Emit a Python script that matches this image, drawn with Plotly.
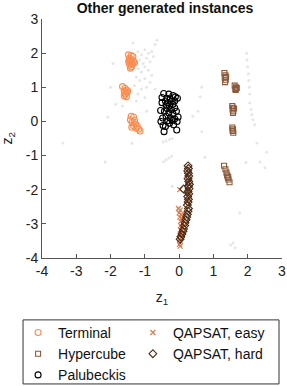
import plotly.graph_objects as go

# ---------------- data ----------------
terminal_x = [-1.48, -1.40, -1.35, -1.45, -1.38, -1.42, -1.33, -1.47, -1.40, -1.36, -1.44, -1.39, -1.42, -1.30, -1.46,
              -1.65, -1.58, -1.55, -1.60, -1.52, -1.57, -1.60, -1.54, -1.50,
              -1.40, -1.33, -1.42, -1.30, -1.37, -1.27, -1.33, -1.22, -1.25, -1.18, -1.14, -1.38]
terminal_y = [1.95, 1.93, 1.90, 1.85, 1.80, 1.78, 1.76, 1.74, 1.70, 1.68, 1.65, 1.60, 1.56, 1.72, 1.80,
              1.02, 0.97, 0.92, 0.88, 0.85, 0.80, 0.75, 0.72, 0.90,
              0.15, 0.13, 0.05, 0.02, -0.03, -0.08, -0.13, -0.15, -0.20, -0.23, -0.28, -0.17]

hyper_x = [1.32, 1.35, 1.33, 1.36, 1.34, 1.37,
           1.62, 1.66, 1.64, 1.68, 1.65,
           1.55, 1.57, 1.56, 1.58, 1.57, 1.60,
           1.55, 1.57, 1.56, 1.58, 1.57,
           1.31, 1.35, 1.38, 1.40, 1.42, 1.44, 1.47, 1.43]
hyper_y = [1.42, 1.35, 1.28, 1.22, 1.15, 1.30,
           1.05, 1.00, 0.95, 0.98, 0.92,
           0.45, 0.40, 0.35, 0.30, 0.25, 0.38,
           -0.18, -0.23, -0.28, -0.33, -0.27,
           -1.30, -1.40, -1.50, -1.58, -1.65, -1.70, -1.78, -1.62]

palu_x = [-0.45, -0.30, -0.18, -0.11, -0.05, -0.50, -0.36, -0.26, -0.40, -0.33, -0.23, -0.13, -0.38, -0.28,
          -0.18, -0.50, -0.35, -0.23, -0.13, -0.54, -0.43, -0.30, -0.18, -0.08, -0.38, -0.26, -0.13, -0.03,
          -0.48, -0.33, -0.20, -0.06, -0.53, -0.28, -0.47, -0.16, -0.44, -0.07, -0.40]
palu_y = [0.82, 0.80, 0.76, 0.72, 0.68, 0.70, 0.68, 0.66, 0.60, 0.55, 0.58, 0.60, 0.48, 0.45,
          0.50, 0.55, 0.38, 0.35, 0.40, 0.32, 0.30, 0.25, 0.22, 0.30, 0.15, 0.10, 0.08, 0.13,
          0.10, 0.02, 0.03, 0.00, 0.00, -0.05, -0.12, -0.10, -0.30, -0.25, -0.15]

easy_x = [0.02, 0.27, 0.26, 0.28, 0.25, -0.02, 0.03, 0.00, 0.06, 0.02, 0.08, 0.05, 0.10, 0.04, 0.08,
          0.05, 0.10, 0.03, 0.06, 0.02, 0.04, 0.01, 0.03, 0.12, 0.15]
easy_y = [-2.00, -1.50, -1.75, -2.10, -2.35, -2.55, -2.60, -2.68, -2.72, -2.80, -2.85, -2.92, -2.98, -3.05, -3.12,
          -3.20, -3.25, -3.30, -3.38, -3.45, -3.52, -3.60, -3.65, -2.78, -3.05]

hard_x = [0.26, 0.27, 0.25, 0.27, 0.28, 0.26, 0.28, 0.30, 0.27, 0.29, 0.26, 0.28, 0.25, 0.27, 0.26,
          0.24, 0.27, 0.26, 0.24, 0.22, 0.20, 0.17, 0.16, 0.13, 0.11, 0.08, 0.05, 0.03, 0.13]
hard_y = [-1.30, -1.38, -1.45, -1.52, -1.60, -1.68, -1.76, -1.84, -1.90, -1.97, -2.05, -2.12, -2.20, -2.28, -2.36,
          -2.45, -2.55, -2.63, -2.72, -2.80, -2.88, -2.97, -3.05, -3.15, -3.22, -3.30, -3.38, -3.45, -1.98]

bg_x = [-1.35, -0.65, -0.70, -1.93, -1.20, -1.10, -1.00, -0.90, -0.80, -1.15, -1.05, -0.95, -0.85, -0.75,
        -1.20, -1.10, -1.00, -0.90, -0.80, -1.25, -1.15, -1.00, -0.85, -1.30, -1.10, -0.95, -1.20, -0.70,
        -1.00, -2.08, -2.00, -1.85, 0.61, 0.66, 0.55, 1.97, 1.98, 2.00, 2.02, 2.03, 2.05, 2.06, 2.06, 2.10,
        2.12, 2.15, 2.20, -3.39, -2.16, -1.38, -0.47, -0.38, -0.28, -0.20, -0.45, -0.38, -0.30, -0.22, 0.66,
        2.27, 2.36, 2.50, 1.77, 1.57, 1.63, -0.20, 0.75, 1.50, 2.55, -0.60, 0.40, 1.95, -1.25, -0.95, -1.65]
bg_y = [2.30, 2.38, 2.25, 1.70, 2.05, 1.95, 2.10, 2.00, 2.05, 1.80, 1.70, 1.85, 1.75, 1.90,
        1.55, 1.45, 1.60, 1.50, 1.35, 1.30, 1.20, 1.25, 1.15, 1.05, 0.95, 1.00, 0.80, 0.95,
        0.70, 0.13, 1.00, 0.50, 0.72, 1.00, 0.30, 2.00, 1.80, 1.60, 1.40, 1.20, 1.00, 0.80, 0.54, 0.35,
        0.20, 0.05, -0.10, -0.63, -1.19, -0.64, -0.60, -0.57, -0.53, -0.50, -1.18, -1.12, -1.07, -1.02, -0.30,
        -0.63, -1.19, -1.36, -2.68, -3.56, -3.70, -1.90, -1.05, -3.62, -0.90, 0.10, 0.15, -1.20, 0.60, 0.30, 0.45]

tick_vals = [-4, -3, -2, -1, 0, 1, 2, 3]
tick_text = ["-4", "-3", "-2", "-1", "0", "1", "2", "3"]

# ---------------- figure ----------------
FONT = "Liberation Sans, Arial, sans-serif"
fig = go.Figure()

fig.add_trace(go.Scatter(x=bg_x, y=bg_y, mode="markers", showlegend=False,
                         marker=dict(size=3, color="#e6e6e6"), hoverinfo="skip"))

def add(name, x, y, symbol, color, size, legend):
    fig.add_trace(go.Scatter(
        x=x, y=y, mode="markers", name=name, legend=legend,
        marker=dict(symbol=symbol, size=size, color=color,
                    line=dict(color=color, width=1.1))))

add("Terminal", terminal_x, terminal_y, "circle-open", "#fb8d50", 6, "legend")
add("Hypercube", hyper_x, hyper_y, "square-open", "#8c5a3a", 5, "legend")
add("Palubeckis", palu_x, palu_y, "circle-open", "#000000", 6, "legend")
add("QAPSAT, easy", easy_x, easy_y, "x-thin-open", "#d9784a", 5, "legend2")
add("QAPSAT, hard", hard_x, hard_y, "diamond-open", "#4a2a14", 6, "legend2")

axis_common = dict(range=[-4, 3], tickvals=tick_vals, ticktext=tick_text, ticks="inside", ticklen=4,
                   tickcolor="#555555", showline=True, linecolor="#555555", linewidth=1,
                   showgrid=False, zeroline=False, mirror=False,
                   tickfont=dict(family=FONT, size=14, color="#222222"))

legend_common = dict(orientation="v", xref="container", yref="container", xanchor="left",
                     yanchor="top", y=0.179, borderwidth=0, bgcolor="rgba(0,0,0,0)",
                     tracegroupgap=0, font=dict(family=FONT, size=14, color="#111111"))

fig.update_layout(
    width=287, height=386,
    margin=dict(l=42, r=5, t=19, b=128, autoexpand=False),
    paper_bgcolor="white", plot_bgcolor="white",
    font=dict(family=FONT, size=14, color="#222222"),
    title=dict(text="<b>Other generated instances</b>", x=0.575, xanchor="center", y=0.992, yanchor="top",
               font=dict(family=FONT, size=14, color="#111111")),
    xaxis=dict(**axis_common, title=dict(text="z<sub>1</sub>", standoff=14,
                                         font=dict(family=FONT, size=14))),
    yaxis=dict(**axis_common),
    legend=dict(**legend_common, x=0.063),
    legend2=dict(**legend_common, x=0.463),
    shapes=[dict(type="rect", xref="paper", yref="paper", x0=-0.079, x1=0.9875, y0=-0.527, y1=-0.259,
                 line=dict(color="#333333", width=1), fillcolor="rgba(0,0,0,0)", layer="above")],
    annotations=[dict(text="z<sub>2</sub>", xref="paper", yref="paper", x=-0.142, y=0.5,
                      xanchor="center", yanchor="middle", textangle=-90, showarrow=False,
                      font=dict(family=FONT, size=14, color="#222222"))],
)

fig.write_html("out.html", post_script="document.body.style.margin='0';",
               config={"displayModeBar": False})
